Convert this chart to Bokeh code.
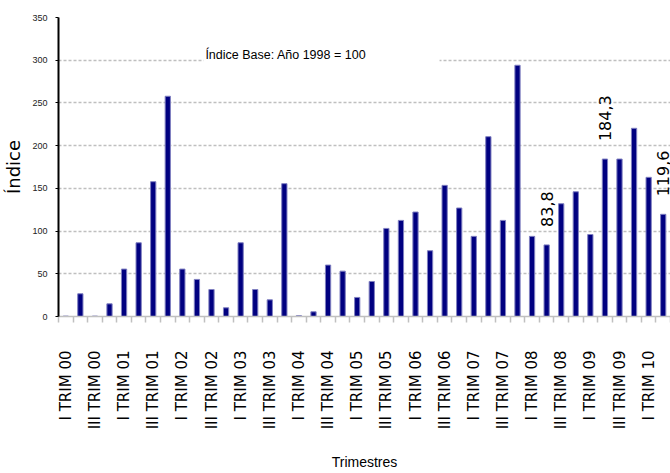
import math
from bokeh.plotting import figure
from bokeh.models import Range1d, FixedTicker, BoxAnnotation, Label, ColumnDataSource
from bokeh.core.properties import value
from bokeh.embed import file_html
from bokeh.resources import INLINE

# ---- data ----
roman = ["I", "II", "III", "IV"]
years = ["00", "01", "02", "03", "04", "05", "06", "07", "08", "09", "10"]
quarters = [f"{r} TRIM {y}" for y in years for r in roman][:42]

indice = [0.5, 26.6, 0.5, 14.8, 55.5, 86.3, 157.8, 257.8,
          55.5, 43.4, 31.6, 10.2, 86.3, 31.6, 19.5, 155.5,
          1.0, 5.5, 60.2, 53.1, 22.3, 41.0, 103.1, 112.5,
          122.3, 77.0, 153.5, 127.0, 93.8, 210.5, 112.5, 294.1,
          93.8, 83.8, 132.0, 146.0, 96.0, 184.3, 184.3, 220.3,
          162.9, 119.6]

labelled_idx = [33, 37, 41]
labelled_txt = ["83,8", "184,3", "119,6"]

y_ticks = [0, 50, 100, 150, 200, 250, 300, 350]
note = "Índice Base: Año 1998 = 100"

NARROW = "Liberation Sans Narrow, Liberation Sans, sans-serif"

idx = list(range(len(quarters)))
src = ColumnDataSource(dict(x=idx, top=indice))
lab_src = ColumnDataSource(dict(x=labelled_idx,
                                y=[indice[i] for i in labelled_idx],
                                t=labelled_txt))

p = figure(width=670, height=473,
           x_range=Range1d(-0.5, len(quarters) - 0.5),
           y_range=Range1d(0, 350),
           output_backend="svg", toolbar_location=None,
           min_border_left=58, min_border_right=0,
           min_border_top=17, min_border_bottom=157)
p.outline_line_color = None
p.background_fill_color = "white"

p.vbar(x="x", top="top", width=0.36, source=src,
       fill_color="#000080", line_color="#7f7fc0", line_width=1)

# x axis
p.xaxis.ticker = FixedTicker(ticks=idx[::2],
                             minor_ticks=[i - 0.5 for i in range(len(quarters) + 1)])
p.xaxis.major_label_overrides = {i: quarters[i] for i in idx[::2]}
p.xaxis.major_label_orientation = math.pi / 2
p.xaxis.major_tick_line_color = None
p.xaxis.major_tick_in = 0
p.xaxis.major_tick_out = 0
p.xaxis.minor_tick_line_color = "#c0c0c0"
p.xaxis.minor_tick_line_width = 1.5
p.xaxis.minor_tick_in = 0
p.xaxis.minor_tick_out = 6
p.xaxis.axis_line_color = "#c0c0c0"
p.xaxis.axis_line_width = 1.5
p.xaxis.major_label_standoff = 28
p.xaxis.major_label_text_font = "DejaVu Sans"
p.xaxis.major_label_text_font_size = "15px"
p.xaxis.major_label_text_color = "black"
p.xaxis.axis_label = "Trimestres"
p.xaxis.axis_label_text_font = NARROW
p.xaxis.axis_label_text_font_size = "14px"
p.xaxis.axis_label_text_font_style = "normal"
p.xaxis.axis_label_text_color = "black"
p.xaxis.axis_label_standoff = 22

# y axis
p.yaxis.ticker = FixedTicker(ticks=y_ticks)
p.yaxis.axis_line_color = "black"
p.yaxis.axis_line_width = 2
p.yaxis.major_tick_line_color = "black"
p.yaxis.major_tick_in = 0
p.yaxis.major_tick_out = 3
p.yaxis.minor_tick_line_color = None
p.yaxis.major_label_text_font = NARROW
p.yaxis.major_label_text_font_size = "9px"
p.yaxis.major_label_text_color = "#222222"
p.yaxis.major_label_standoff = 8
p.yaxis.axis_label = "Índice"
p.yaxis.axis_label_text_font = "DejaVu Sans"
p.yaxis.axis_label_text_font_size = "18px"
p.yaxis.axis_label_text_font_style = "normal"
p.yaxis.axis_label_text_color = "black"
p.yaxis.axis_label_standoff = 5

# grid
p.xgrid.grid_line_color = None
p.ygrid.ticker = FixedTicker(ticks=y_ticks[1:])
p.ygrid.grid_line_color = "#bfbfbf"
p.ygrid.grid_line_dash = "3 2"
p.ygrid.grid_line_width = 1.5

# note box
p.add_layout(BoxAnnotation(left=9.45, right=25.65, bottom=290, top=327,
                           fill_color="white", fill_alpha=1.0, line_color=None))
p.add_layout(Label(x=9.58, y=306.5, text=note, text_font=NARROW,
                   text_font_size="12.5px", text_baseline="alphabetic",
                   text_color="black"))

# value labels
p.text(x="x", y="y", text="t", source=lab_src, angle=math.pi / 2,
       text_align="left", text_baseline="middle", y_offset=-18,
       text_font=value("DejaVu Sans"), text_font_size="16px", text_color="black")

open("out.html", "w").write(file_html(p, INLINE))
